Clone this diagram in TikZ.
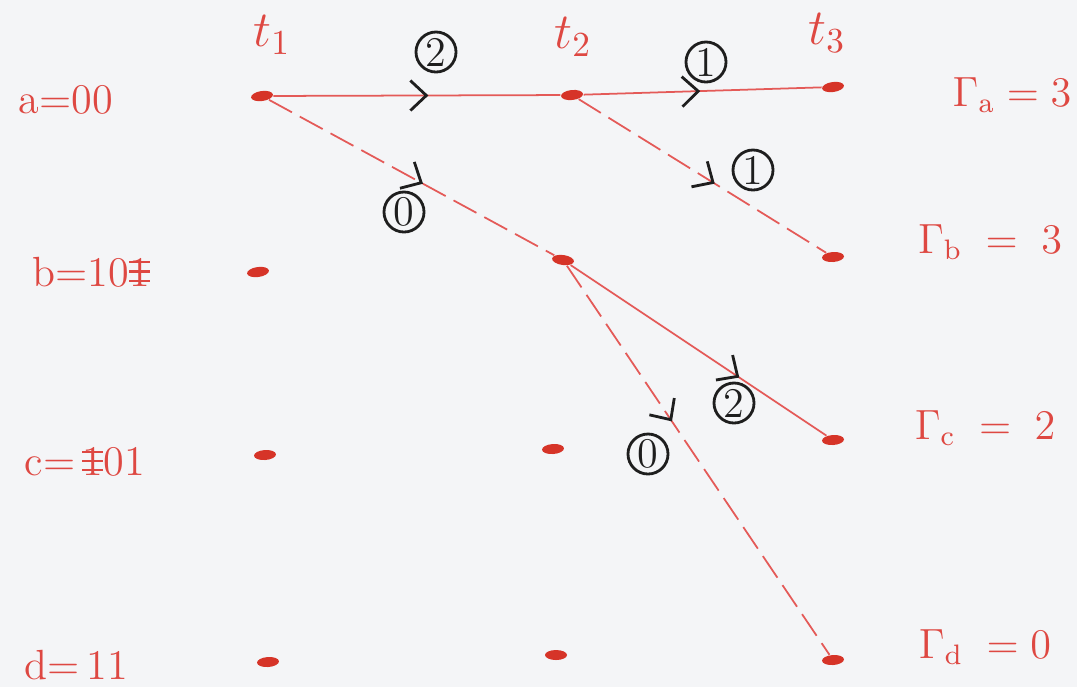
\documentclass[tikz,border=0pt]{standalone}
\usetikzlibrary{shapes.geometric,arrows.meta,decorations.markings}
\definecolor{paper}{RGB}{244,245,247}
\definecolor{ink}{RGB}{222,72,66}
\definecolor{dot}{RGB}{214,52,40}
\definecolor{wire}{RGB}{228,90,88}
\definecolor{pen}{RGB}{30,30,30}
\newcommand\scrib{\ooalign{\hfil 1\hfil\cr\raisebox{0.25ex}{\rule{0.5em}{0.6pt}}\cr\raisebox{0.75ex}{\rule{0.5em}{0.6pt}}\cr\raisebox{1.25ex}{\rule{0.5em}{0.6pt}}\cr}}
\tikzset{
  state/.style={ellipse,fill=dot,draw=none,minimum width=0.22cm,minimum height=0.10cm,inner sep=0pt},
  lab/.style={text=ink,anchor=west,inner sep=0pt,font=\fontsize{12}{14}\selectfont},
  tlab/.style={text=ink,font=\fontsize{14}{16}\selectfont},
  glab/.style={text=ink,font=\fontsize{12}{14}\selectfont},
  wgt/.style={circle,draw=pen,text=pen,line width=0.8pt,minimum size=0.40cm,inner sep=0pt,font=\fontsize{12}{14}\selectfont},
  solidedge/.style={draw=wire,line width=0.5pt},
  dashedge/.style={draw=wire,line width=0.5pt,dash pattern=on 0.26cm off 0.09cm},
  midarrow/.style={postaction={decorate,decoration={markings,mark=at position #1 with {\arrow[pen,line width=0.8pt]{Straight Barb[length=0.16cm,width=0.30cm]}}}}}
}
\begin{document}
\begin{tikzpicture}[x=0.01cm,y=-0.01cm]
\fill[paper] (0,0) rectangle (1077,687);
\useasboundingbox (0,0) rectangle (1077,687);

% time labels
\node[tlab] (t1) at (272,35) {$t_1$};
\node[tlab] (t2) at (573,37) {$t_2$};
\node[tlab] (t3) at (827,33) {$t_3$};

% state labels
\node[lab] (la) at (18,100) {a=00};
\node[lab] (lb) at (32,272) {b=10\scrib};
\node[lab] (lc) at (24,462) {c=\,\scrib01};
\node[lab] (ld) at (24,665) {d=\,11};

% states
\node[state,rotate=8] (a1) at (262,96) {};
\node[state,rotate=8] (b1) at (258,272) {};
\node[state,rotate=4] (c1) at (265,455) {};
\node[state,rotate=4] (d1) at (268,662) {};
\node[state,rotate=6] (a2) at (572,95) {};
\node[state,rotate=-8] (b2) at (563,260) {};
\node[state,rotate=4] (c2) at (553,449) {};
\node[state,rotate=0] (d2) at (556,655) {};
\node[state,rotate=8] (a3) at (833,87) {};
\node[state,rotate=4] (b3) at (833,257) {};
\node[state,rotate=4] (c3) at (833,440) {};
\node[state,rotate=4] (d3) at (833,660) {};

% branches
\draw[solidedge,midarrow=0.54] (a1) -- (a2);
\draw[solidedge,midarrow=0.49] (a2) -- (a3);
\draw[dashedge,midarrow=0.54] (a1) -- (b2);
\draw[dashedge,midarrow=0.55] (a2) -- (b3);
\draw[solidedge,midarrow=0.66] (b2) -- (c3);
\draw[dashedge,midarrow=0.40] (b2) -- (d3);

% branch metrics
\node[wgt] (w1) at (436,52) {2};
\node[wgt] (w2) at (706,62) {1};
\node[wgt] (w3) at (404,212) {0};
\node[wgt] (w4) at (753,170) {1};
\node[wgt] (w5) at (734,403) {2};
\node[wgt] (w6) at (648,454) {0};

% path metrics
\node[glab] (ga) at (1012,95) {$\Gamma_{\mathrm{a}} = 3$};
\node[glab] (gb) at (990,242) {$\Gamma_{\mathrm{b}} \;=\; 3$};
\node[glab] (gc) at (985,428) {$\Gamma_{\mathrm{c}} \;=\; 2$};
\node[glab] (gd) at (985,647) {$\Gamma_{\mathrm{d}} \;=0$};
\end{tikzpicture}
\end{document}
